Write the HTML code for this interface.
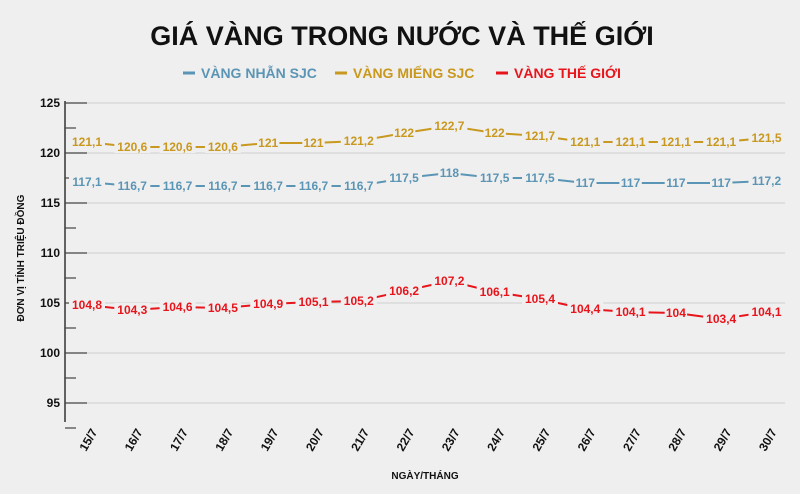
<!DOCTYPE html>
<html><head><meta charset="utf-8"><style>
body{margin:0;background:#efefef;font-family:"Liberation Sans",sans-serif;}
svg{display:block}
</style></head><body>
<svg id="c" width="800" height="494" xmlns="http://www.w3.org/2000/svg">
<rect width="800" height="494" fill="#efefef"/>
<text x="402" y="45" text-anchor="middle" font-size="27" font-weight="bold" fill="#111">GIÁ VÀNG TRONG NƯỚC VÀ THẾ GIỚI</text>
<g font-size="14" font-weight="bold">
<g><line x1="183" y1="73" x2="195" y2="73" stroke="#5b95b5" stroke-width="3"/><text x="201" y="78" fill="#5b95b5">VÀNG NHẪN SJC</text></g>
<g><line x1="335" y1="73" x2="347" y2="73" stroke="#c9981e" stroke-width="3"/><text x="353" y="78" fill="#c9981e">VÀNG MIẾNG SJC</text></g>
<g><line x1="496" y1="73" x2="508" y2="73" stroke="#e8141c" stroke-width="3"/><text x="514" y="78" fill="#e8141c">VÀNG THẾ GIỚI</text></g>
</g>
<text transform="translate(24,258) rotate(-90)" text-anchor="middle" font-size="10" font-weight="bold" fill="#111">ĐƠN VỊ TÍNH TRIỆU ĐỒNG</text>
<text x="425" y="479" text-anchor="middle" font-size="10" font-weight="bold" fill="#111">NGÀY/THÁNG</text>
<g id="axes"></g>
<g id="series"></g>
</svg>
<script>
const categories=["15/7","16/7","17/7","18/7","19/7","20/7","21/7","22/7","23/7","24/7","25/7","26/7","27/7","28/7","29/7","30/7"];
const nhanValues=[117.1,116.7,116.7,116.7,116.7,116.7,116.7,117.5,118,117.5,117.5,117,117,117,117,117.2];
const miengValues=[121.1,120.6,120.6,120.6,121,121,121.2,122,122.7,122,121.7,121.1,121.1,121.1,121.1,121.5];
const worldValues=[104.8,104.3,104.6,104.5,104.9,105.1,105.2,106.2,107.2,106.1,105.4,104.4,104.1,104,103.4,104.1];
const yTicks=[95,100,105,110,115,120,125];
const NS="http://www.w3.org/2000/svg";
const yS=v=>103+(125-v)*10;
const xS=i=>87+i*45.3;
function mk(t,a,p){const e=document.createElementNS(NS,t);for(const k in a)e.setAttribute(k,a[k]);p.appendChild(e);return e;}
const ax=document.getElementById('axes');
const yAxis=mk('line',{x1:65,y1:101,x2:65,y2:422,stroke:'#333','stroke-width':1.5},ax);


for(let v=92.5;v<=125;v+=2.5){
  const major=v%5===0;
  const t=mk('line',{x1:65,y1:yS(v),x2:major?87:76,y2:yS(v),stroke:'#444','stroke-width':1.2},ax);
  
  
}
yTicks.forEach(v=>{
  const g=mk('line',{x1:87,y1:yS(v),x2:785,y2:yS(v),stroke:'#cfcfcf','stroke-width':1},ax);
  
  
  const t=mk('text',{x:60,y:yS(v)+4,'text-anchor':'end','font-size':12,'font-weight':'bold',fill:'#111'},ax);
  t.textContent=v;
  
  
});
categories.forEach((c,i)=>{
  const t=mk('text',{transform:`translate(${xS(i)-1},${452}) rotate(-60)`,'text-anchor':'start','font-size':12,'font-weight':'bold',fill:'#111'},ax);
  t.textContent=c;
  
  
});
const fmt=v=>String(v).replace('.',',');
const sg=document.getElementById('series');
function draw(vals,color,name){
  const g=mk('g',{},sg);
  
  
  const pl=mk('polyline',{points:vals.map((v,i)=>xS(i)+','+yS(v)).join(' '),fill:'none',stroke:color,'stroke-width':2},g);
  
  
  vals.forEach((v,i)=>{
    const s=fmt(v);const w=s.length*6.8+2;
    const r=mk('rect',{x:xS(i)-w/2,y:yS(v)-7,width:w,height:13,fill:'#efefef'},g);
    
    
    const t=mk('text',{x:xS(i),y:yS(v)+4,'text-anchor':'middle','font-size':12,'font-weight':'bold',fill:color},g);
    t.textContent=s;
    
    
  });
}
draw(miengValues,'#c9981e','series-mieng');
draw(nhanValues,'#5b95b5','series-nhan');
draw(worldValues,'#e8141c','series-the-gioi');
</script>
</body></html>
